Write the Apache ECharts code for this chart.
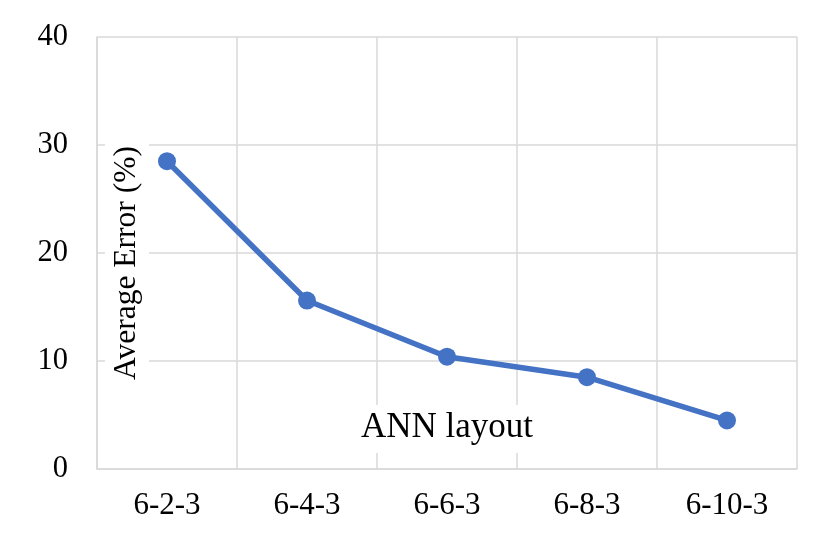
<!DOCTYPE html>
<html>
<head>
<meta charset="utf-8">
<script src="https://cdn.jsdelivr.net/npm/echarts@6/dist/echarts.min.js"></script>
<style>
html,body{margin:0;padding:0;background:#fff;}
#chart{width:840px;height:550px;}
</style>
</head>
<body>
<div id="chart"></div>
<script>
const categories = ['6-2-3', '6-4-3', '6-6-3', '6-8-3', '6-10-3'];
const averageError = [28.5, 15.6, 10.4, 8.5, 4.5];
const yTicks = { min: 0, max: 40, interval: 10 };
const xTitle = 'ANN layout';
const yTitle = 'Average Error (%)';

const FONT = '"Liberation Serif", "Times New Roman", serif';
const chart = echarts.init(document.getElementById('chart'), null, { renderer: 'canvas' });
chart.setOption({
  animation: false,
  backgroundColor: '#ffffff',
  grid: { left: 97, right: 43, top: 37, bottom: 81, containLabel: false },
  graphic: [{
    type: 'text',
    x: 127,
    y: 265,
    rotation: Math.PI / 2,
    z: 50,
    style: {
      text: yTitle,
      font: '31.5px ' + FONT,
      fill: '#000',
      align: 'center',
      verticalAlign: 'middle',
      backgroundColor: '#fff',
      padding: [6, 2, 6, 6]
    }
  }],
  xAxis: {
    type: 'category',
    data: categories,
    boundaryGap: true,
    name: xTitle,
    nameLocation: 'middle',
    nameGap: -64,
    nameTextStyle: { fontFamily: FONT, fontSize: 35, color: '#000', backgroundColor: '#fff', padding: [5, 10, 8, 10] },
    axisLine: { show: true, lineStyle: { color: '#d9d9d9', width: 1.5 } },
    axisTick: { show: false },
    axisLabel: { fontFamily: FONT, fontSize: 31, color: '#000', margin: 21 },
    splitLine: { show: true, lineStyle: { color: '#d9d9d9', width: 1.5 } },
    z: 5
  },
  yAxis: {
    type: 'value',
    min: yTicks.min,
    max: yTicks.max,
    interval: yTicks.interval,
    axisLine: { show: true, lineStyle: { color: '#d9d9d9', width: 1.5 } },
    axisTick: { show: false },
    axisLabel: { fontFamily: FONT, fontSize: 30.5, color: '#000', margin: 29 },
    splitLine: { show: true, lineStyle: { color: '#d9d9d9', width: 1.5 } },
    z: 5
  },
  series: [{
    type: 'line',
    data: averageError,
    symbol: 'circle',
    symbolSize: 18,
    lineStyle: { color: '#4472C4', width: 5.5 },
    itemStyle: { color: '#4472C4' },
    z: 10
  }]
});
</script>
</body>
</html>
